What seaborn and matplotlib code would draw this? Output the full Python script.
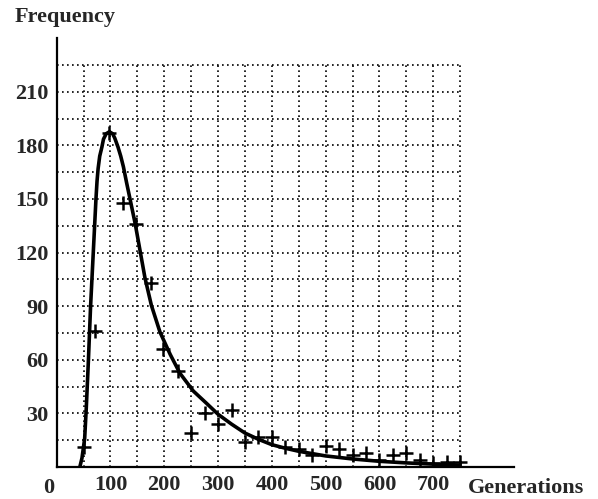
import matplotlib
matplotlib.use('Agg')
import matplotlib.pyplot as plt
import pandas as pd
import seaborn as sns

# pontos observados (cruzes)
obs_gen = [50, 72, 98, 124, 147, 175, 198, 225, 250, 275, 300, 325, 350, 375, 400,
           425, 450, 475, 500, 525, 550, 575, 600, 625, 650, 675, 700, 725, 750]
obs_freq = [11, 76, 187, 148, 136, 103, 66, 54, 19, 30, 24, 32, 14, 17, 17,
            11, 10, 7, 12, 10, 7, 8, 4, 7, 8, 4, 2, 3, 3]

# curva ajustada
curve_gen = [43, 47, 52, 55, 59, 63, 68, 73, 75, 77, 80, 84, 87, 92, 98, 104, 108,
             114, 119, 124, 130, 137, 146, 155, 164, 176, 192, 211, 229, 254, 279,
             300, 325, 350, 375, 400, 425, 450, 500, 550, 600, 650, 700, 750]
curve_freq = [0, 5, 16, 33, 60, 90, 120, 150, 160, 167, 174, 179, 183.5, 186.5, 187.6,
              186.5, 184, 179, 174, 168, 159, 149, 136, 121, 106, 90.5, 75.5, 63, 52.5, 42.5, 35.5,
              29.5, 24, 19, 15.5, 12.5, 10.5, 8.8, 6.2, 4.5, 3.2, 2.3, 1.6, 1.1]

y_ticks = [30, 60, 90, 120, 150, 180, 210]
x_ticks = [100, 200, 300, 400, 500, 600, 700]

df_obs = pd.DataFrame({'gen': obs_gen, 'freq': obs_freq})
df_curve = pd.DataFrame({'gen': curve_gen, 'freq': curve_freq})

sns.set_style('white')
plt.rcParams['font.family'] = ['Liberation Serif', 'DejaVu Serif']

fig = plt.figure(figsize=(5.98, 4.99), dpi=100)
ax = fig.add_axes([0.0948, 0.0641, 0.7647, 0.8595])

# grade pontilhada
for gx in range(50, 800, 50):
    ax.vlines(gx, 0, 225, colors='black', linestyles=(0, (1, 2)), linewidth=1.2, zorder=1)
for gy in range(15, 240, 15):
    ax.hlines(gy, 0, 750, colors='black', linestyles=(0, (1, 2)), linewidth=1.2, zorder=1)

sns.lineplot(data=df_curve, x='gen', y='freq', color='black', linewidth=2.6, ax=ax, zorder=3)
sns.scatterplot(data=df_obs, x='gen', y='freq', marker='+', s=90, linewidth=1.8,
                color='black', ax=ax, zorder=4)

ax.set_xlim(0, 850)
ax.set_ylim(0, 240)
ax.set_xticks(x_ticks)
ax.set_yticks(y_ticks)
ax.tick_params(length=0, labelsize=16, pad=6)
for lab in ax.get_xticklabels() + ax.get_yticklabels():
    lab.set_fontweight('bold')
ax.set_xlabel('')
ax.set_ylabel('')

for side in ['top', 'right']:
    ax.spines[side].set_visible(False)
for side in ['left', 'bottom']:
    ax.spines[side].set_color('black')
    ax.spines[side].set_linewidth(1.6)

# rotulos
ax.text(-15, -6, '0', ha='center', va='top', fontsize=16, fontweight='bold')
ax.text(765, -6, 'Generations', ha='left', va='top', fontsize=16, fontweight='bold')
fig.text(15 / 598, 1 - 22 / 499, 'Frequency', ha='left', va='baseline',
         fontsize=16, fontweight='bold')

plt.savefig('out.png', dpi=100)
